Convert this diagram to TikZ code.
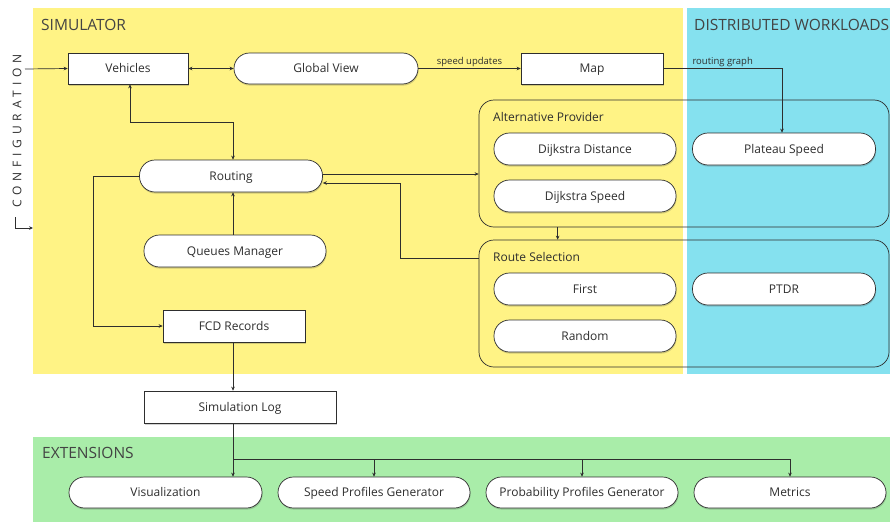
\documentclass[tikz,border=0pt]{standalone}
\usepackage{fontspec}
\setmainfont{Open Sans}
\newfontfamily\spacedfont[LetterSpace=40]{Open Sans}
\usetikzlibrary{arrows.meta,shadows,calc}

\definecolor{simyellow}{HTML}{FFF385}
\definecolor{distcyan}{HTML}{85E1EF}
\definecolor{extgreen}{HTML}{A9EDA9}
\definecolor{ink}{HTML}{2E2E2E}

\tikzset{
  softshadow/.style={drop shadow={shadow xshift=0.6pt, shadow yshift=-1.6pt, opacity=0.25, fill=black!70}},
  pill/.style={draw=ink, fill=white, line width=0.7pt, rounded corners=15.5pt,
    minimum width=183pt, minimum height=32pt, inner sep=0pt, text=ink,
    text height=8.6pt, text depth=0pt,
    font=\fontsize{12}{14}\selectfont, softshadow},
  boxnode/.style={draw=ink, fill=white, line width=0.7pt,
    minimum height=31pt, inner sep=0pt, text=ink,
    text height=8.6pt, text depth=0pt,
    font=\fontsize{12}{14}\selectfont, softshadow},
  container/.style={draw=ink, line width=0.7pt, rounded corners=15pt, inner sep=0pt},
  grouplabel/.style={anchor=base west, inner sep=0pt, text=ink, font=\fontsize{12}{14}\selectfont},
  regionlabel/.style={anchor=base west, inner sep=0pt, text=ink!90, font=\fontsize{15.5}{18}\selectfont},
  edgelabel/.style={inner sep=1.5pt, text=ink, font=\fontsize{9.5}{11}\selectfont},
  conn/.style={draw=ink, line width=0.7pt},
  tip/.style={-{Stealth[length=4pt,width=3.6pt]}},
  tips/.style={{Stealth[length=4pt,width=3.6pt]}-{Stealth[length=4pt,width=3.6pt]}},
}

\begin{document}
\begin{tikzpicture}[x=1pt,y=-1pt]
\useasboundingbox (0,0) rectangle (890,522);

% regions
\fill[simyellow] (33,8) rectangle (683,374);
\fill[distcyan] (687,8) rectangle (890,374);
\fill[extgreen] (33,437) rectangle (890,522);

\node[regionlabel] (simlab) at (41,30) {SIMULATOR};
\node[regionlabel] (distlab) at (694,30) {DISTRIBUTED WORKLOADS};
\node[regionlabel] (extlab) at (42,458) {EXTENSIONS};

% configuration input
\node[rotate=90, inner sep=0pt, text=ink, font=\fontsize{12}{14}\spacedfont] (cfg) at (17,131) {CONFIGURATION};
\coordinate (cfgin) at (25,69);
\coordinate (cfgtop) at (15,217);
\coordinate (cfgbend) at (15,228);
\coordinate (cfgout) at (33,228);

% simulator nodes
\node[boxnode, minimum width=120pt] (veh) at (128,68.5) {Vehicles};
\node[pill, minimum width=184pt, minimum height=31pt] (gv) at (326,68.5) {Global View};
\node[boxnode, minimum width=142pt] (map) at (592,68.5) {Map};
\node[pill] (rout) at (231,176) {Routing};
\node[pill, minimum width=182pt] (qm) at (235,251) {Queues Manager};
\node[boxnode, minimum width=142pt, minimum height=32pt] (fcd) at (234,326) {FCD Records};
\node[boxnode, minimum width=192pt, minimum height=32pt] (slog) at (240,407) {Simulation Log};

% groups
\node[container, minimum width=410pt, minimum height=127pt] (alt) at (684,163.5) {};
\node[grouplabel] (altlab) at (493,121) {Alternative Provider};
\node[pill, minimum width=182pt] (dd) at (585,149) {Dijkstra Distance};
\node[pill, minimum width=182pt] (ds) at (585,196) {Dijkstra Speed};
\node[pill] (plat) at (784,149) {Plateau Speed};

\node[container, minimum width=410pt, minimum height=127pt] (rsel) at (684,303.5) {};
\node[grouplabel] (rsellab) at (493,261) {Route Selection};
\node[pill, minimum width=182pt] (first) at (585,289) {First};
\node[pill, minimum width=182pt] (rand) at (585,336) {Random};
\node[pill] (ptdr) at (784,289) {PTDR};

% extensions
\node[pill, minimum width=193pt, minimum height=31pt] (vis) at (165.5,492.5) {Visualization};
\node[pill, minimum width=192pt, minimum height=31pt] (spg) at (374,492.5) {Speed Profiles Generator};
\node[pill, minimum width=192pt, minimum height=31pt] (ppg) at (582,492.5) {Probability Profiles Generator};
\node[pill, minimum width=192pt, minimum height=31pt] (met) at (790,492.5) {Metrics};

% connectors
\draw[conn, tip] (cfgin) -- (veh.west);
\draw[conn, tip] (cfgtop) -- (cfgbend) -- (cfgout);
\draw[conn, tips] (veh.east) -- (gv.west);
\draw[conn, tip] (gv.east) -- node[edgelabel, above] {speed updates} (map.west);
\draw[conn, tip] (map.east) -| node[edgelabel, above, pos=0.25] {routing graph} ([xshift=-2pt]plat.north);
\draw[conn, tips] ([xshift=2pt]veh.south) -- ++(0,38) -| ([xshift=2pt]rout.north);
\draw[conn, tip] ([yshift=2pt]rout.east) -- ([yshift=2pt]rout.east -| alt.west);
\draw[conn, tip] ([yshift=-19pt]rsel.north west) -- ++(-78,0) |- ([yshift=-7pt]rout.east);
\draw[conn, tip] ([xshift=79pt]alt.south west) -- ([xshift=79pt]rsel.north west);
\draw[conn, tip] ([xshift=-2pt]qm.north) -- ([xshift=-2pt]qm.north |- rout.south);
\draw[conn, tip] (rout.west) -- ++(-46,0) |- (fcd.west);
\draw[conn, tip] ([xshift=-1pt]fcd.south) -- ([xshift=-1pt]fcd.south |- slog.north);
\coordinate (split) at (233,459);
\draw[conn] (split |- slog.south) -- (split);
\draw[conn, tip] (split) -- (split |- vis.north);
\draw[conn, tip] (split) -| (spg.north);
\draw[conn, tip] (split) -| (ppg.north);
\draw[conn, tip] (split) -| (met.north);
\end{tikzpicture}
\end{document}
